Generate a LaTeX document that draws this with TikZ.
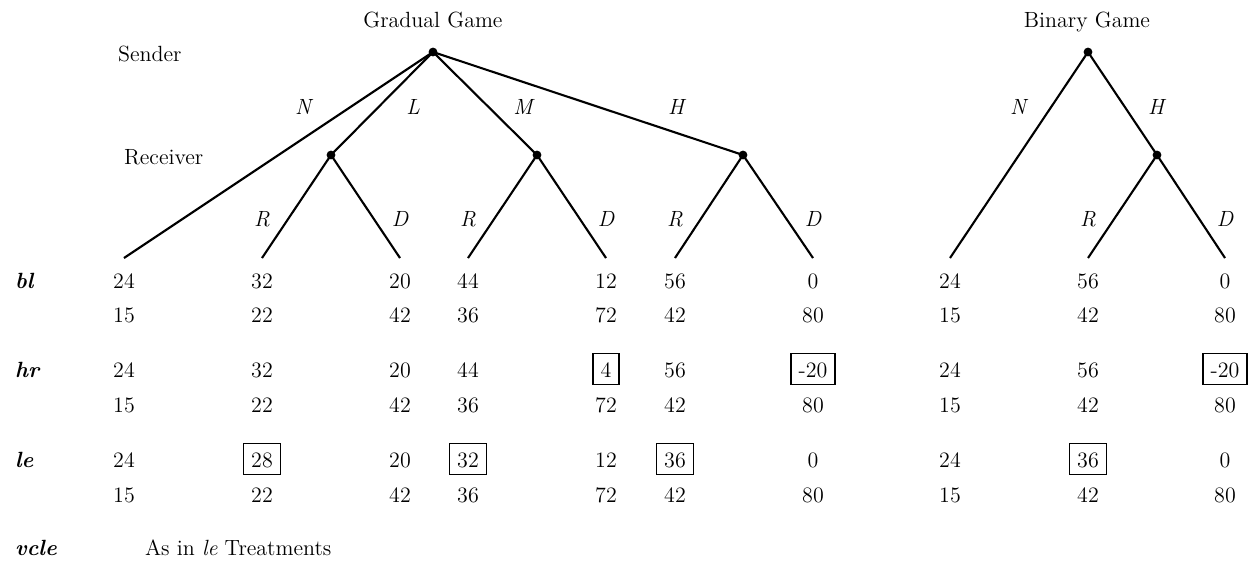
\documentclass[tikz,border=0pt]{standalone}
\begin{document}
\begin{tikzpicture}[x=0.5pt,y=-0.5pt,
  font=\fontsize{11}{13}\selectfont,
  dot/.style={circle,fill=black,inner sep=0pt,minimum size=4.4pt},
  edge/.style={line width=1.05pt},
  lab/.style={font=\fontsize{11}{13}\selectfont\itshape,anchor=base},
  rowlab/.style={font=\fontsize{11}{13}\selectfont\bfseries\itshape,anchor=base west},
  num/.style={anchor=base,inner sep=3.8pt,text height=8pt,text depth=0pt},
  boxnum/.style={num,draw,line width=0.8pt},
  plain/.style={anchor=base}]
\useasboundingbox (0,0) rectangle (1259,563);

% titles and player labels
\node[plain] (tg) at (433,27) {Gradual Game};
\node[plain] (tb) at (1087,27) {Binary Game};
\node[plain,anchor=base west] (sender) at (111,61) {Sender};
\node[plain,anchor=base west] (receiver) at (117,164) {Receiver};

% gradual game tree
\node[dot] (g) at (433,52) {};
\node[dot] (gL) at (331,155) {};
\node[dot] (gM) at (537,155) {};
\node[dot] (gH) at (743,155) {};
\coordinate (lN) at (124,258);
\coordinate (lLR) at (262,258);
\coordinate (lLD) at (400,258);
\coordinate (lMR) at (468,258);
\coordinate (lMD) at (606,258);
\coordinate (lHR) at (675,258);
\coordinate (lHD) at (813,258);
\draw[edge] (g.center) -- (lN);
\draw[edge] (g.center) -- (gL.center);
\draw[edge] (g.center) -- (gM.center);
\draw[edge] (g.center) -- (gH.center);
\draw[edge] (gL.center) -- (lLR);
\draw[edge] (gL.center) -- (lLD);
\draw[edge] (gM.center) -- (lMR);
\draw[edge] (gM.center) -- (lMD);
\draw[edge] (gH.center) -- (lHR);
\draw[edge] (gH.center) -- (lHD);

% binary game tree
\node[dot] (b) at (1088,52) {};
\node[dot] (bH) at (1157,155) {};
\coordinate (bN) at (950,258);
\coordinate (bR) at (1088,258);
\coordinate (bD) at (1225,258);
\draw[edge] (b.center) -- (bN);
\draw[edge] (b.center) -- (bH.center) -- (bD);
\draw[edge] (bH.center) -- (bR);

% action labels
\node[lab] (aN) at (303,114) {N};
\node[lab] (aL) at (413,114) {L};
\node[lab] (aM) at (523,114) {M};
\node[lab] (aH) at (676,114) {H};
\node[lab] (bNl) at (1018,114) {N};
\node[lab] (bHl) at (1156,114) {H};
\foreach \x/\t [count=\i] in {262/R,400/D,468/R,606/D,675/R,813/D,1088/R,1225/D}
  \node[lab] (rd\i) at (\x,226) {\t};

% row labels
\node[rowlab] (rbl) at (8,288) {bl};
\node[rowlab] (rhr) at (8,377) {hr};
\node[rowlab] (rle) at (8,467) {le};
\node[rowlab] (rvcle) at (8,555) {vcle};
\node[plain,anchor=base west] (asin) at (138,555) {As in \textit{le} Treatments};

% payoffs
\foreach \x/\v/\s [count=\c] in {124/24/num,262/32/num,400/20/num,468/44/num,606/12/num,675/56/num,813/0/num,950/24/num,1088/56/num,1225/0/num}
  \node[\s] (bla\c) at (\x,288) {\v};
\foreach \x/\v/\s [count=\c] in {124/15/num,262/22/num,400/42/num,468/36/num,606/72/num,675/42/num,813/80/num,950/15/num,1088/42/num,1225/80/num}
  \node[\s] (blb\c) at (\x,322) {\v};
\foreach \x/\v/\s [count=\c] in {124/24/num,262/32/num,400/20/num,468/44/num,606/4/boxnum,675/56/num,813/-20/boxnum,950/24/num,1088/56/num,1225/-20/boxnum}
  \node[\s] (hra\c) at (\x,377) {\v};
\foreach \x/\v/\s [count=\c] in {124/15/num,262/22/num,400/42/num,468/36/num,606/72/num,675/42/num,813/80/num,950/15/num,1088/42/num,1225/80/num}
  \node[\s] (hrb\c) at (\x,412) {\v};
\foreach \x/\v/\s [count=\c] in {124/24/num,262/28/boxnum,400/20/num,468/32/boxnum,606/12/num,675/36/boxnum,813/0/num,950/24/num,1088/36/boxnum,1225/0/num}
  \node[\s] (lea\c) at (\x,467) {\v};
\foreach \x/\v/\s [count=\c] in {124/15/num,262/22/num,400/42/num,468/36/num,606/72/num,675/42/num,813/80/num,950/15/num,1088/42/num,1225/80/num}
  \node[\s] (leb\c) at (\x,502) {\v};
\end{tikzpicture}
\end{document}
